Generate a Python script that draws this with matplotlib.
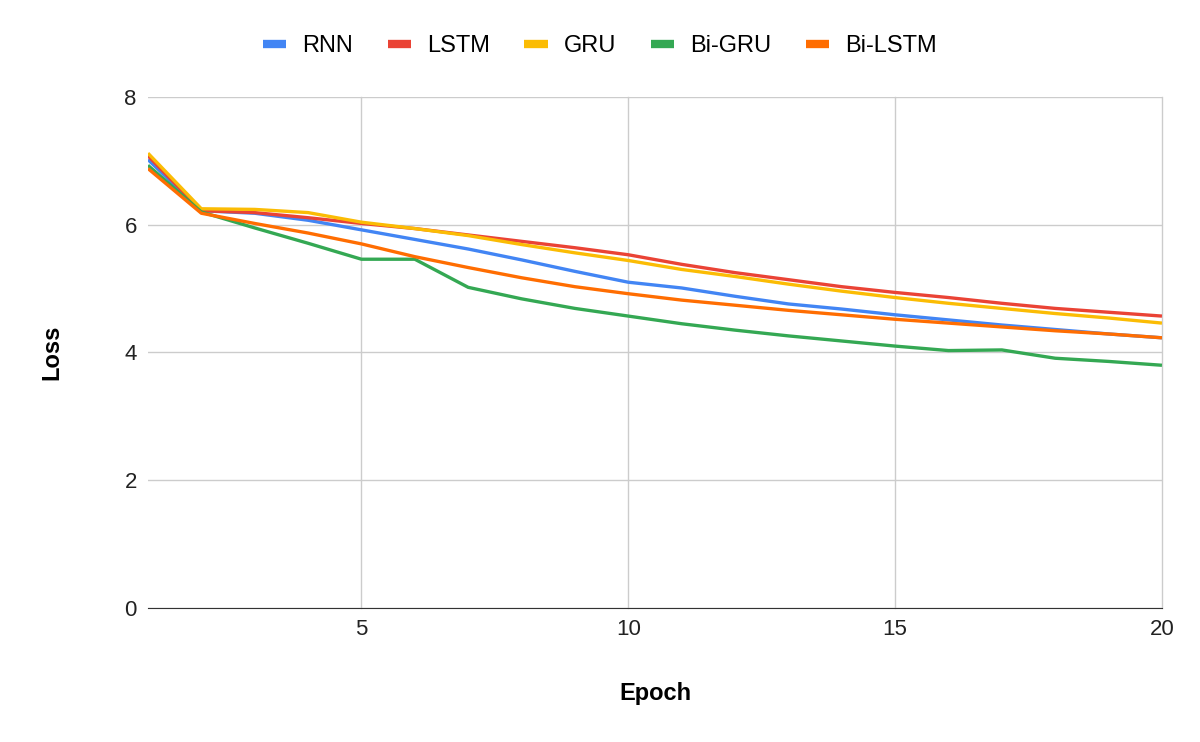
import matplotlib.pyplot as plt

epochs = list(range(1, 21))
rnn = [7.02, 6.22, 6.18, 6.07, 5.92, 5.77, 5.62, 5.45, 5.27, 5.10, 5.01, 4.88, 4.76, 4.68, 4.59, 4.51, 4.43, 4.36, 4.29, 4.23]
lstm = [7.08, 6.22, 6.19, 6.11, 6.02, 5.94, 5.84, 5.74, 5.64, 5.53, 5.38, 5.25, 5.14, 5.03, 4.94, 4.86, 4.77, 4.69, 4.63, 4.57]
gru = [7.12, 6.25, 6.24, 6.19, 6.04, 5.94, 5.83, 5.69, 5.56, 5.44, 5.30, 5.19, 5.07, 4.96, 4.86, 4.77, 4.69, 4.61, 4.54, 4.46]
bigru = [6.93, 6.20, 5.95, 5.71, 5.46, 5.46, 5.02, 4.84, 4.69, 4.57, 4.45, 4.35, 4.26, 4.18, 4.10, 4.03, 4.04, 3.91, 3.86, 3.80]
bilstm = [6.88, 6.18, 6.02, 5.87, 5.70, 5.50, 5.33, 5.17, 5.03, 4.92, 4.82, 4.74, 4.66, 4.59, 4.52, 4.46, 4.40, 4.34, 4.29, 4.23]

series = [("RNN", rnn, "#4285F4"), ("LSTM", lstm, "#EA4335"), ("GRU", gru, "#FBBC04"),
          ("Bi-GRU", bigru, "#34A853"), ("Bi-LSTM", bilstm, "#FF6D01")]

plt.rcParams['font.family'] = ['Liberation Sans', 'DejaVu Sans']

fig = plt.figure(figsize=(12, 7.42), dpi=100)
ax = fig.add_axes([0.1233, 0.1806, 0.845, 0.6887])

for name, vals, color in series:
    ax.plot(epochs, vals, color=color, lw=2.4, label=name, solid_capstyle='butt')

ax.set_xlim(1, 20)
ax.set_ylim(0, 8)
ax.set_xticks([5, 10, 15, 20])
ax.set_yticks([0, 2, 4, 6, 8])
ax.grid(True, color='#cccccc', lw=1)
for gl in ax.get_xgridlines():
    gl.set_clip_on(False)
ax.set_axisbelow(True)
for s in ['top', 'right', 'left']:
    ax.spines[s].set_visible(False)
ax.spines['bottom'].set_color('#333333')
ax.tick_params(length=0, labelsize=16, colors='#222222', pad=8)

ax.set_xlabel("Epoch", fontsize=17, fontweight='bold', labelpad=30)
ax.set_ylabel("Loss", fontsize=17, fontweight='bold', labelpad=44)

leg = fig.legend(loc='center', bbox_to_anchor=(0.5, 0.938), ncol=5, frameon=False,
                 fontsize=17, handlelength=1.0, handletextpad=0.68, columnspacing=1.45)
for line in leg.get_lines():
    line.set_linewidth(6)

fig.savefig("out.png", dpi=100)
